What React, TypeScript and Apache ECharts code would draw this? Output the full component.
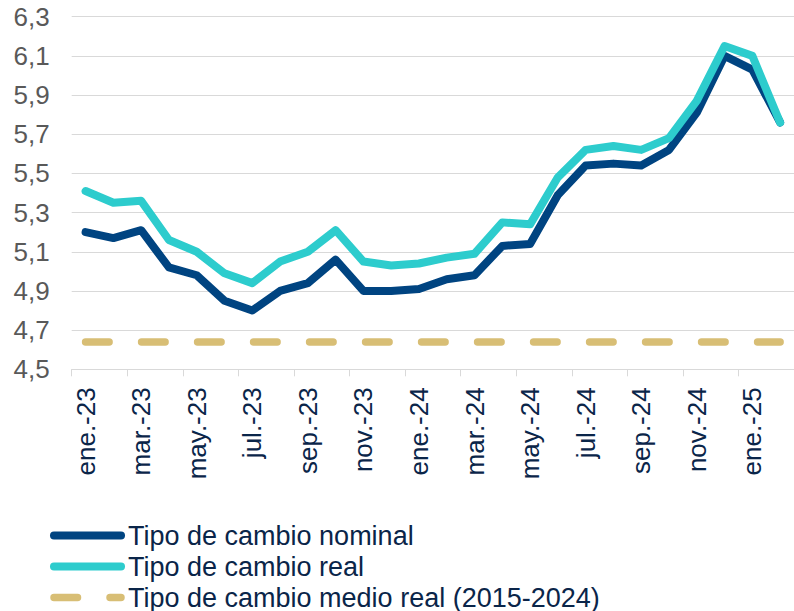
import React, { useEffect, useRef } from "react";
import * as echarts from "echarts";

const categories = [
  "ene.-23", "feb.-23", "mar.-23", "abr.-23", "may.-23", "jun.-23",
  "jul.-23", "ago.-23", "sep.-23", "oct.-23", "nov.-23", "dic.-23",
  "ene.-24", "feb.-24", "mar.-24", "abr.-24", "may.-24", "jun.-24",
  "jul.-24", "ago.-24", "sep.-24", "oct.-24", "nov.-24", "dic.-24",
  "ene.-25", "feb.-25",
];

const nominal = [
  5.20, 5.17, 5.21, 5.02, 4.98, 4.85, 4.80, 4.90, 4.94, 5.06, 4.90, 4.90,
  4.91, 4.96, 4.98, 5.13, 5.14, 5.39, 5.54, 5.55, 5.54, 5.62, 5.81, 6.10,
  6.03, 5.76,
];

const real = [
  5.41, 5.35, 5.36, 5.16, 5.10, 4.99, 4.94, 5.05, 5.10, 5.21, 5.05, 5.03,
  5.04, 5.07, 5.09, 5.25, 5.24, 5.48, 5.62, 5.64, 5.62, 5.68, 5.87, 6.15,
  6.10, 5.76,
];

const meanReal = categories.map(() => 4.64);

const seriesNames = [
  "Tipo de cambio nominal",
  "Tipo de cambio real",
  "Tipo de cambio medio real (2015-2024)",
];

const FONT = "'Liberation Sans', Arial, Helvetica, sans-serif";
const NAVY_TEXT = "#0a2549";

export default function App() {
  const ref = useRef<HTMLDivElement>(null);

  useEffect(() => {
    if (!ref.current) return;
    const chart = echarts.init(ref.current, null, { renderer: "svg" });
    chart.setOption({
      animation: false,
      backgroundColor: "#ffffff",
      textStyle: { fontFamily: FONT },
      grid: { left: 71.7, top: 16.7, right: -5.7, bottom: 241.7, containLabel: false },
      xAxis: {
        type: "category",
        data: categories,
        boundaryGap: true,
        axisLine: { show: true, lineStyle: { color: "#d9d9d9", width: 1 } },
        axisTick: { show: true, interval: 1, length: 7, lineStyle: { color: "#d9d9d9", width: 1 } },
        axisLabel: {
          interval: 1,
          rotate: 90,
          margin: 18,
          fontSize: 26,
          color: NAVY_TEXT,
          fontFamily: FONT,
        },
        splitLine: { show: false },
      },
      yAxis: {
        type: "value",
        min: 4.5,
        max: 6.3,
        interval: 0.2,
        axisLine: { show: false },
        axisTick: { show: false },
        axisLabel: {
          margin: 22,
          fontSize: 26,
          color: "#595959",
          fontFamily: FONT,
          formatter: (v: number) => v.toFixed(1).replace(".", ","),
        },
        splitLine: { show: true, lineStyle: { color: "#d9d9d9", width: 1 } },
      },
      legend: {
        data: seriesNames,
        orient: "vertical",
        left: 50,
        top: 522,
        height: 100,
        padding: 0,
        itemWidth: 67,
        itemHeight: 8,
        itemGap: 4,
        lineStyle: { width: "inherit" },
        itemStyle: { opacity: 0 },
        textStyle: {
          fontSize: 27,
          color: NAVY_TEXT,
          fontFamily: FONT,
          padding: [0, 0, 0, 2],
        },
      },
      series: [
        {
          name: seriesNames[2],
          type: "line",
          data: meanReal,
          symbol: "none",
          itemStyle: { color: "#d8be75" },
          lineStyle: { color: "#d8be75", width: 7.5, type: [23.5, 32.5], cap: "round" },
          z: 1,
        },
        {
          name: seriesNames[0],
          type: "line",
          data: nominal,
          symbol: "none",
          itemStyle: { color: "#004481" },
          lineStyle: { color: "#004481", width: 8, cap: "round", join: "round" },
          z: 2,
        },
        {
          name: seriesNames[1],
          type: "line",
          data: real,
          symbol: "none",
          itemStyle: { color: "#2dcccd" },
          lineStyle: { color: "#2dcccd", width: 8, cap: "round", join: "round" },
          z: 3,
        },
      ],
    });
    return () => chart.dispose();
  }, []);

  return (
    <div
      ref={ref}
      style={{ position: "absolute", left: 0, top: 0, width: 794, height: 611, overflow: "hidden" }}
    />
  );
}
